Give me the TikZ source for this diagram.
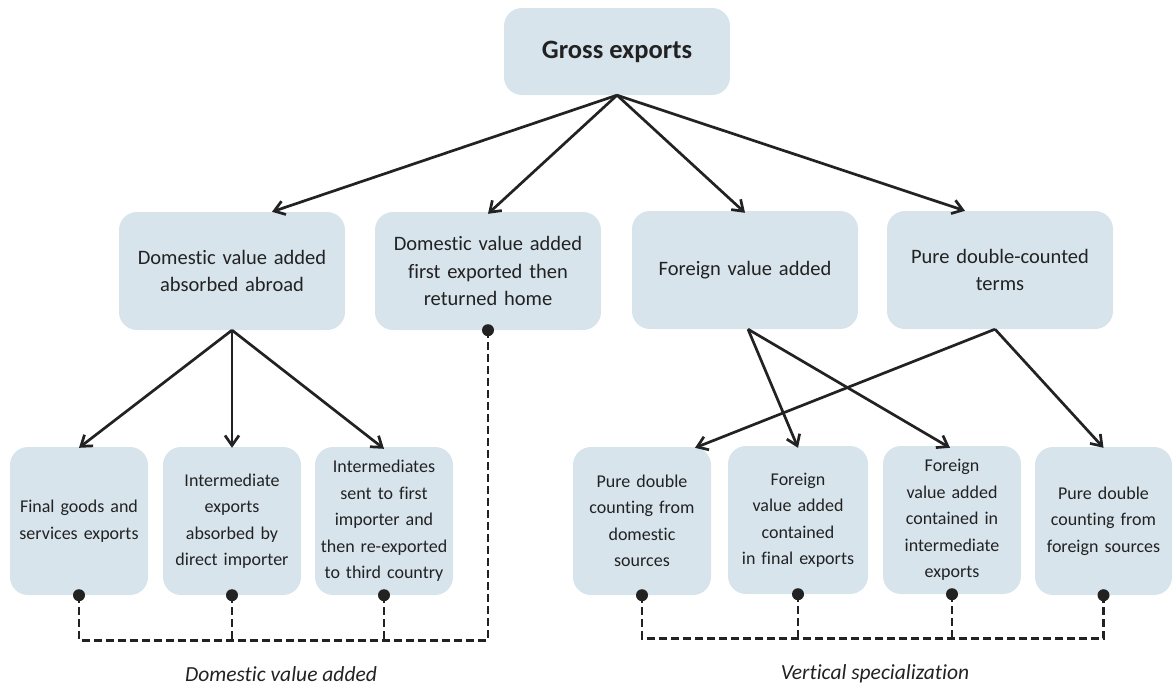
\documentclass[tikz,border=0pt]{standalone}
\usepackage{fontspec}
\setmainfont{Carlito}[Ligatures=NoCommon]
\usetikzlibrary{arrows.meta}

\definecolor{boxfill}{HTML}{D7E4EC}
\definecolor{ink}{HTML}{222222}

\begin{document}
\begin{tikzpicture}[x=1pt, y=-1pt,
	box/.style = {fill=boxfill, rounded corners=18pt, align=center, inner sep=0pt, text=ink},
	midbox/.style = {box, minimum width=226pt, minimum height=118pt, text width=215pt,
		font=\fontsize{20.5}{27.5}\selectfont},
	lowbox/.style = {box, minimum width=138pt, minimum height=148pt, text width=134pt,
		font=\fontsize{18}{26.5}\selectfont},
	arr/.style = {-{Straight Barb[length=10pt, width=14pt]}, line width=2.7pt, ink},
	dashline/.style = {line width=2.6pt, dash pattern=on 8pt off 4pt, ink},
	lbl/.style = {font=\fontsize{21.5}{24}\selectfont\itshape, text=ink}]
	\useasboundingbox (0, 0) rectangle (1172, 691);

	\node[box, minimum width=226pt, minimum height=87pt, font=\fontsize{26.5}{30}\selectfont\bfseries] (gross) at (617, 51.5) {Gross exports};

	\node[midbox] (dvaAbroad) at (232, 271) {Domestic value added\\absorbed abroad};
	\node[midbox] (dvaHome) at (488, 271) {Domestic value added\\first exported then\\returned home};
	\node[midbox] (fva) at (745, 270) {Foreign value added};
	\node[midbox] (pdc) at (1000, 270) {Pure double-counted\\terms};

	\node[lowbox] (finExp) at (79, 521) {Final goods and\\services exports};
	\node[lowbox] (intExp) at (232, 521) {Intermediate\\exports\\absorbed by\\direct importer};
	\node[lowbox] (reExp) at (384, 521) {Intermediates\\sent to first\\importer and\\then re-exported\\to third country};
	\node[lowbox] (pdcDom) at (642, 521) {Pure double\\counting from\\domestic\\sources};
	\node[lowbox, minimum width=140pt] (fvaFin) at (798, 520) {Foreign\\value added\\contained\\in final exports};
	\node[lowbox] (fvaInt) at (952, 520) {Foreign\\value added\\contained in\\intermediate\\exports};
	\node[lowbox, minimum width=137pt] (pdcFor) at (1103.5, 521) {Pure double\\counting from\\foreign sources};

	% first split
	\draw[arr] (gross.south) -- ([xshift=40pt]dvaAbroad.north);
	\draw[arr] (gross.south) -- ([yshift=-2pt]dvaHome.north);
	\draw[arr] (gross.south) -- ([yshift=-2pt]fva.north);
	\draw[arr] (gross.south) -- ([xshift=-35pt]pdc.north);

	% second split
	\draw[arr] (dvaAbroad.south) -- ([yshift=-1pt]finExp.north);
	\draw[arr] (dvaAbroad.south) -- ([yshift=-1pt]intExp.north);
	\draw[arr] (dvaAbroad.south) -- ([yshift=-2pt]reExp.north);
	\draw[arr] ([xshift=3pt]fva.south) -- ([yshift=-2pt]fvaFin.north);
	\draw[arr] ([xshift=3pt]fva.south) -- ([xshift=-2pt, yshift=-2pt]fvaInt.north);
	\draw[arr] ([xshift=-5pt]pdc.south) -- ([xshift=53pt, yshift=-1pt]pdcDom.north);
	\draw[arr] ([xshift=-5pt]pdc.south) -- ([yshift=-1pt]pdcFor.north);

	% dashed groupings
	\draw[dashline] (finExp.south) -- ++(0, 45) coordinate (dvaLine) -| (dvaHome.south);
	\draw[dashline] (intExp.south) -- (intExp.south |- dvaLine);
	\draw[dashline] (reExp.south) -- (reExp.south |- dvaLine);
	\draw[dashline] (pdcDom.south) -- ++(0, 43) coordinate (vsLine) -| (pdcFor.south);
	\draw[dashline] (fvaFin.south) -- (fvaFin.south |- vsLine);
	\draw[dashline] (fvaInt.south) -- (fvaInt.south |- vsLine);
	\foreach \n in {finExp, intExp, reExp, dvaHome, pdcDom, fvaFin, fvaInt, pdcFor}
		\fill[ink] (\n.south) circle (6);

	\node[lbl] (dvaLabel) at (281, 674) {Domestic value added};
	\node[lbl] (vsLabel) at (875, 674) {Vertical specialization};
\end{tikzpicture}
\end{document}
